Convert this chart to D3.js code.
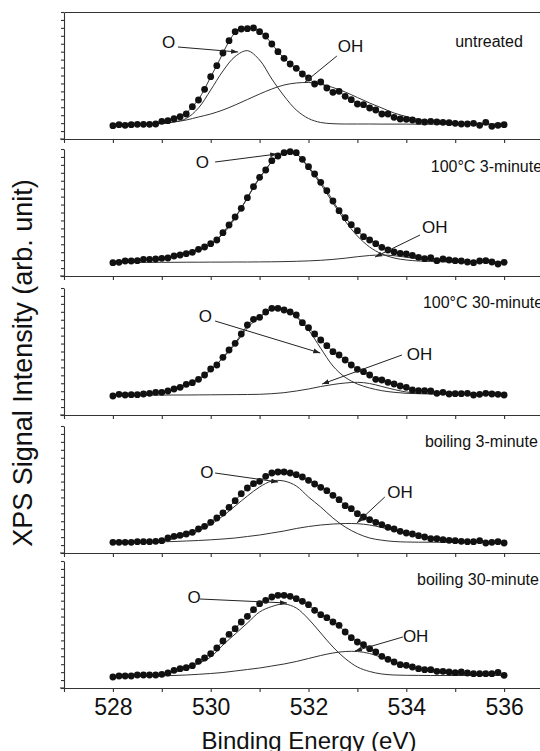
<!DOCTYPE html>
<html><head><meta charset="utf-8">
<script src="https://cdn.jsdelivr.net/npm/d3@7"></script>
<style>
body{margin:0;background:#fff}
svg{display:block}
text{font-family:"Liberation Sans",Arial,Helvetica,sans-serif;fill:#111}
</style>
</head><body>
<svg id="c" width="540" height="751"></svg>
<script>
// ---------- DATA ----------
const xTickValues = [527,528,529,530,531,532,533,534,535,536];
const xTickLabels = [528,530,532,534,536];
const conditions = ["untreated","100°C 3-minute","100°C 30-minute","boiling 3-minute","boiling 30-minute"];

// measured points, 528 → 536 eV every 0.125 eV
const dotsUntreated = [13.3,14.3,13.7,14.3,14.7,14.7,14.7,15,17.7,18.3,20.3,22.3,25,32.3,39,49.7,62.3,73.3,86,98.3,107.3,110,110.3,111,107.3,103,95,87.3,80.7,75,70.7,65,61,55,57,51,46.7,47.7,42.7,39.3,35,34.3,31,29,25,25,21.7,20,19.7,19,17.7,17,17.7,17,16.7,16.3,15.7,15,15,15.7,13.7,16.7,12.7,13.7,14.3];
const dots100C3 = [13.3,13.7,15,15,15.3,16.7,16.7,17,17.7,18,20,21,22.3,23.7,26.7,29,32.3,36,43.3,51,59,67.7,78.3,89.3,98.7,106,115.3,120,123.3,124.3,123.3,116.7,109.3,102,93.7,85.3,75,65.3,58.3,51.3,45.3,39.3,36,32.3,28.7,26,24,22.7,22,20.7,18.7,17.3,18.3,15.3,17,16,15.3,15,14,13.3,15,15.3,14,12,13.7];
const dots100C30 = [19,20.7,20,20.3,20.3,21,21.7,22.7,22.7,24,26,27.7,30.7,32.3,35.7,40,46,50,57.7,65,71.7,81,90,95.7,97.7,103,106.7,106.7,105,103,100,92.3,87.3,81,75,69.3,63.3,60,55,50,45.7,43.3,40,35.7,35,32.7,31,29,27.7,25,24.3,24.3,24,21.7,22.7,21,21.3,21.3,21.7,20,20.7,21.7,21,20.7,20];
const dotsBoil3 = [10.7,10.7,10.7,10.7,11.3,11.3,11.3,11.7,12.3,15,16.7,17.7,19,20.7,24,26.7,30.7,35,40,45.7,52.3,59.3,65,69.3,71.7,76.7,80,81,81,80,78.3,76,72.7,69,65.7,62.3,57.7,53.3,47.3,44.3,39.3,36,33.3,30.7,28.3,25.7,24,21.7,20,19,17.3,16,14.3,14.3,13.3,12.7,12.3,11.7,11.3,11.3,12.3,10,10.7,11.3,10];
const dotsBoil30 = [11,12,12,12,13,13,13,13,13.7,15,17.7,19.3,20.3,22.3,26.7,30,34.3,40,47,53.7,59.3,66,71.7,78.3,84.3,87.7,91,92.7,92.7,91.7,89.3,86.7,83.3,77.7,73.3,70.3,66,62.7,56,50.3,46,43.3,39.3,36,31.7,28.7,26,23.3,22.7,21,19.3,18.3,18.3,16.7,16.7,16,15.3,16,15,14.3,14.3,14.3,14.3,15.7,12.7];

// fitted components, 528 → 536 eV every 0.25 eV
const oUntreated = [15,15,15,15,15.5,17,20.5,31,49,68,82.5,88.3,79,60,43,29,20.5,16.5,15.3,15,15,15,14.9,14.9,14.9,14.8,14.8,14.8,14.8,14.8,14.8,14.8,14.8];
const ohUntreated = [14.8,14.8,14.8,15,15.5,17,19,22,25,29,34,39.5,45,50,54,56,56.5,55,51.5,47,41.5,36,31,26,22.5,19.5,17.5,16.3,15.5,15,14.8,14.8,14.8];
const o100C3 = [13.5,14.5,15.3,16.3,17.5,19.5,22,26,32,42,58,78,98,114,123,122,108,92,73,55,40,29,22,18,16,15,14.5,14.2,14,14,13.8,13.8,13.8];
const oh100C3 = [13.5,13.5,13.6,13.6,13.7,13.7,13.8,13.8,13.9,13.9,14,14,14.1,14.2,14.4,14.7,15.1,15.7,16.6,17.8,19.3,20.5,21,20.3,18.8,17,15.6,14.7,14.2,14,13.9,13.8,13.8];
const o100C30 = [19.5,20,20.3,21,22.5,25,29,35,45,57,71,87,98,105.5,106,98,85,66.7,49,37.7,31,27,24.3,22.7,21.7,21.3,21,21,21,21,21,20.8,20.8];
const oh100C30 = [19.5,19.6,19.7,19.8,19.9,20,20,20.1,20.2,20.3,20.4,20.5,20.7,21.3,22.3,24,26,28.5,30.5,32,32.7,31.5,28.5,25.5,23,22,21.3,21,21,21,20.8,20.8,20.8];
const oBoil3 = [11,11,11,11.3,12,14.3,17.5,22,28.5,37,47,57,66,72,72,67,56,46,35,26,19.5,15,12.8,11.5,11,10.8,10.8,10.7,10.7,10.7,10.7,10.7,10.7];
const ohBoil3 = [10.7,10.7,10.8,11,11.2,11.5,12,12.5,13.2,14,15,16.5,18,20,22,24.5,26.5,28,29,29.5,29.3,28,25.5,22.5,19.5,17,15,13.5,12.3,11.6,11.1,10.8,10.7];
const oBoil30 = [11.5,12,12.3,12.7,13,16,19,24.5,31,43,54,65,76,81.5,84,80,69,55,41,29.5,21,16.5,14,13,12.7,12.6,12.5,12.5,12.5,12.5,12.5,12.5,12.5];
const ohBoil30 = [11.5,11.6,11.8,12,12.2,12.5,13,13.7,14.5,15.5,17,18.5,20,22,24,26.5,29.5,32.5,35,36.5,36.5,34.5,30.5,26,22,19,16.5,14.8,13.8,13.2,12.8,12.6,12.5];

// annotations in data units [eV, intensity]
const oLabelPos  = [[529.14,91],[529.83,108],[529.89,93],[529.92,75],[529.66,85]];
const oLineFrom  = [[529.33,92],[530.09,114],[530.09,94],[530.09,80],[529.78,89]];
const oLineTo    = [[530.56,87],[531.36,122],[532.24,62],[531.38,71],[531.56,85]];
const ohLabelPos = [[532.60,87],[534.32,43],[534.01,55],[533.61,55],[533.93,46]];
const ohLineFrom = [[532.58,83],[534.28,41],[533.91,60],[533.56,56],[533.93,51]];
const ohLineTo   = [[531.93,57],[533.36,19],[532.28,31],[532.99,30],[532.95,37]];
const condPos    = [[535.0,92],[534.5,104],[534.34,107],[534.38,106],[534.22,103]];

// ---------- LAYOUT ----------
const panelBottoms = [139,276,415,553,688];
const panelH = 127;
const svg = d3.select("#c");
const x = d3.scaleLinear().domain([527,537]).range([64,553]);
const dotE = d3.range(dotsUntreated.length).map(i => 528 + i*0.125);
const fitE = d3.range(oUntreated.length).map(i => 528 + i*0.25);

const dotsAll = [dotsUntreated,dots100C3,dots100C30,dotsBoil3,dotsBoil30];
const oAll = [oUntreated,o100C3,o100C30,oBoil3,oBoil30];
const ohAll = [ohUntreated,oh100C3,oh100C30,ohBoil3,ohBoil30];

const defs = svg.append("defs");
defs.append("marker").attr("id","arr").attr("viewBox","0 0 10 10")
  .attr("refX",10).attr("refY",5).attr("markerWidth",7).attr("markerHeight",7)
  .attr("markerUnits","userSpaceOnUse").attr("orient","auto")
  .append("path").attr("d","M0,1.5L10,5L0,8.5Z").attr("fill","#222");

const axisColor = "#333";

dotsAll.forEach((dots, i) => {
  const b = panelBottoms[i];
  const y = d3.scaleLinear().domain([0,panelH]).range([b, b-panelH]);
  const g = svg.append("g");

  const ya = g.append("g").attr("transform","translate(64,0)")
    .call(d3.axisLeft(y).tickValues(d3.range(17).map(k => k*panelH/16)).tickSize(3).tickSizeOuter(0).tickFormat(""));
  ya.selectAll("path,line").attr("stroke",axisColor).attr("stroke-width",1.1);

  const xa = g.append("g").attr("transform",`translate(0,${b})`)
    .call(d3.axisBottom(x).tickValues(xTickValues).tickSize(4).tickSizeOuter(0).tickPadding(7)
      .tickFormat(d => (i === 4 && xTickLabels.includes(d)) ? d : ""));
  xa.selectAll("path,line").attr("stroke",axisColor).attr("stroke-width",1.1);
  xa.selectAll("text").attr("font-size",23).attr("fill","#111")
    .attr("font-family",'"Liberation Sans",Arial,sans-serif');
  g.append("line").attr("x1",x(527)-4).attr("x2",x(527)).attr("y1",b).attr("y2",b)
    .attr("stroke",axisColor).attr("stroke-width",1.1);

  if (i === 0) {
    const ta = g.append("g").attr("transform",`translate(0,${b-panelH})`)
      .call(d3.axisTop(x).tickValues([]).tickSizeOuter(0));
    ta.selectAll("path").attr("stroke",axisColor).attr("stroke-width",1.1);
  }

  const lineFit = d3.line().x((d,k) => x(fitE[k])).y(d => y(d)).curve(d3.curveCatmullRom);
  g.append("path").datum(oAll[i]).attr("d",lineFit).attr("fill","none").attr("stroke","#333").attr("stroke-width",1);
  g.append("path").datum(ohAll[i]).attr("d",lineFit).attr("fill","none").attr("stroke","#333").attr("stroke-width",1);

  const lineEnv = d3.line().x((d,k) => x(dotE[k])).y(d => y(d)).curve(d3.curveBasis);
  g.append("path").datum(dots).attr("d",lineEnv).attr("fill","none").attr("stroke","#333").attr("stroke-width",1);

  g.selectAll("circle.pt").data(dots).join("circle").attr("class","pt")
    .attr("cx",(d,k) => x(dotE[k])).attr("cy",d => y(d)).attr("r",3.4).attr("fill","#111");

  const ann = [[oLabelPos[i],oLineFrom[i],oLineTo[i],"O","middle"],[ohLabelPos[i],ohLineFrom[i],ohLineTo[i],"OH","start"]];
  ann.forEach(([lp,lf,lt,txt,anchor]) => {
    g.append("line").attr("x1",x(lf[0])).attr("y1",y(lf[1])).attr("x2",x(lt[0])).attr("y2",y(lt[1]))
      .attr("stroke","#222").attr("stroke-width",1).attr("marker-end","url(#arr)");
    g.append("text").attr("x",x(lp[0])).attr("y",y(lp[1])).attr("text-anchor",anchor)
      .attr("font-size",17).text(txt);
  });

  g.append("text").attr("x",x(condPos[i][0])).attr("y",y(condPos[i][1]))
    .attr("font-size",16).text(conditions[i]);
});

// axis titles
svg.append("text").attr("x",309).attr("y",749).attr("text-anchor","middle")
  .attr("font-size",24).text("Binding Energy (eV)");
svg.append("text").attr("transform","translate(32,363) rotate(-90)").attr("text-anchor","middle")
  .attr("font-size",27).text("XPS Signal Intensity (arb. unit)");
</script>
</body></html>
